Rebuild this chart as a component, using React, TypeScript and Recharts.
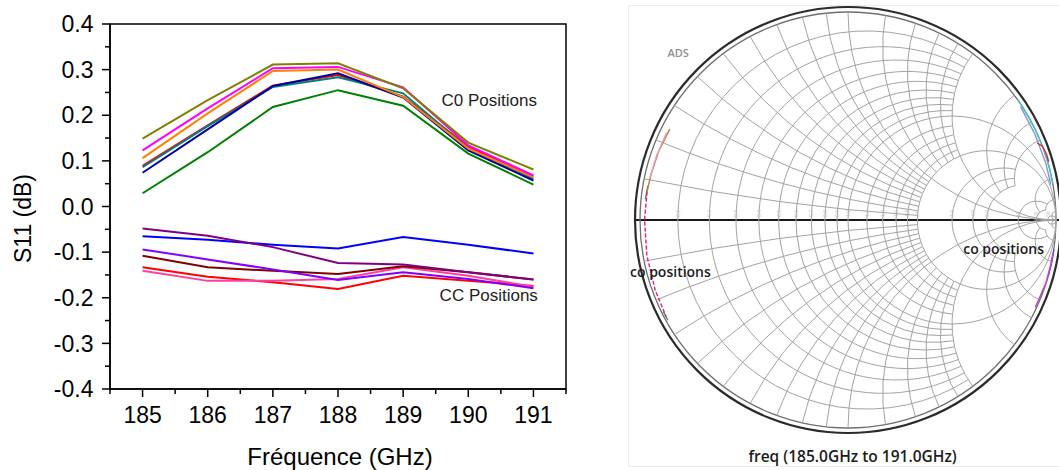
import React from "react";
import {
  LineChart,
  Line,
  XAxis,
  YAxis,
  ReferenceArea,
  ReferenceDot,
  ReferenceLine,
  ScatterChart,
  Scatter,
} from "recharts";

const FONT = "'Liberation Sans', Arial, Helvetica, sans-serif";
const SMITH_FONT = "'Open Sans', 'Noto Sans', sans-serif";

// ---------- left panel: S11 (dB) vs frequency ----------
const freqs = [185, 186, 187, 188, 189, 190, 191];

const c0Olive = [0.149, 0.233, 0.311, 0.314, 0.259, 0.14, 0.081];
const c0Magenta = [0.123, 0.215, 0.303, 0.306, 0.261, 0.134, 0.068];
const c0Orange = [0.106, 0.204, 0.297, 0.3, 0.24, 0.127, 0.064];
const c0Red = [0.089, 0.178, 0.265, 0.288, 0.241, 0.132, 0.066];
const c0Teal = [0.086, 0.176, 0.262, 0.283, 0.248, 0.127, 0.061];
const c0Navy = [0.074, 0.169, 0.264, 0.292, 0.239, 0.123, 0.057];
const c0Green = [0.029, 0.119, 0.218, 0.255, 0.221, 0.116, 0.048];

const ccPurple = [-0.048, -0.064, -0.089, -0.124, -0.127, -0.144, -0.16];
const ccBlue = [-0.065, -0.073, -0.084, -0.092, -0.067, -0.084, -0.103];
const ccViolet = [-0.094, -0.116, -0.138, -0.161, -0.144, -0.159, -0.179];
const ccMaroon = [-0.108, -0.133, -0.141, -0.148, -0.131, -0.144, -0.16];
const ccRed = [-0.133, -0.154, -0.166, -0.181, -0.152, -0.163, -0.174];
const ccPink = [-0.141, -0.163, -0.163, -0.159, -0.133, -0.152, -0.176];

const xMajorTicks = [185, 186, 187, 188, 189, 190, 191];
const xMinorTicks = [184.5, 185.5, 186.5, 187.5, 188.5, 189.5, 190.5, 191.5];
const yMajorTicks = [-0.4, -0.3, -0.2, -0.1, 0, 0.1, 0.2, 0.3, 0.4];
const yMinorTicks = [-0.35, -0.25, -0.15, -0.05, 0.05, 0.15, 0.25, 0.35];

const annotations = [
  { text: "C0 Positions", freq: 189.59, s11: 0.22 },
  { text: "CC Positions", freq: 189.56, s11: -0.208 },
];

const seriesList = [
  { key: "c0Green", color: "#008000", values: c0Green },
  { key: "c0Red", color: "#ff0000", values: c0Red },
  { key: "c0Teal", color: "#008080", values: c0Teal },
  { key: "c0Navy", color: "#0000a0", values: c0Navy },
  { key: "c0Orange", color: "#ff8000", values: c0Orange },
  { key: "c0Magenta", color: "#ff00ff", values: c0Magenta },
  { key: "c0Olive", color: "#808000", values: c0Olive },
  { key: "ccRed", color: "#ff0000", values: ccRed },
  { key: "ccPink", color: "#ff3f9f", values: ccPink },
  { key: "ccMaroon", color: "#800000", values: ccMaroon },
  { key: "ccViolet", color: "#8000ff", values: ccViolet },
  { key: "ccBlue", color: "#0000ff", values: ccBlue },
  { key: "ccPurple", color: "#800080", values: ccPurple },
];

const s11Data = freqs.map((freq, i) => {
  const row: any = { freq };
  seriesList.forEach((s) => {
    row[s.key] = s.values[i];
  });
  return row;
});

// ---------- right panel: Smith chart ----------
const UNIT = 208; // px per unit of reflection coefficient
const SMITH_W = 431;
const SMITH_H = 470;
const SMITH_CX = 220;
const SMITH_CY = 220;
const gxDomain = [-SMITH_CX / UNIT, (SMITH_W - SMITH_CX) / UNIT];
const gyDomain = [-(SMITH_H - SMITH_CY) / UNIT, SMITH_CY / UNIT];

const resistanceFine = [0.1, 0.2, 0.3, 0.4, 0.5, 0.6, 0.7, 0.8, 0.9, 1.2, 1.4, 1.6, 1.8];
const resistanceFull = [1, 2, 50];
const resistanceCoarse = [3, 4, 5];
const resistanceHigh = [10, 20];
const reactanceFine = [0.1, 0.2, 0.3, 0.4, 0.5, 0.6, 0.7, 0.8, 0.9, 1.2, 1.4, 1.6, 1.8];
const reactanceFull = [1, 2, 50];
const reactanceCoarse = [3, 4, 5];
const reactanceHigh = [10, 20];
const ringRadii = [1, 1.024];
const resistanceLabels = [0.1, 0.2, 0.3, 0.4, 0.5, 0.6, 0.7, 0.8, 0.9, 1, 1.2, 1.4, 1.6, 1.8, 2, 3, 4, 5, 10, 20, 50];

const traceLeftOrange = [
  { gx: -0.857, gy: 0.437 },
  { gx: -0.91, gy: 0.331 },
  { gx: -0.947, gy: 0.219 },
  { gx: -0.966, gy: 0.136 },
];
const traceLeftPink = [
  { gx: -0.872, gy: 0.42 },
  { gx: -0.92, gy: 0.31 },
  { gx: -0.952, gy: 0.205 },
];
const traceLeftMagenta = [
  { gx: -0.966, gy: 0.136 },
  { gx: -0.978, gy: 0.0 },
  { gx: -0.967, gy: -0.171 },
  { gx: -0.927, gy: -0.337 },
  { gx: -0.874, gy: -0.465 },
];
const traceLeftGreenA = [
  { gx: -0.962, gy: 0.165 },
  { gx: -0.974, gy: 0.1 },
];
const traceLeftGreenB = [
  { gx: -0.888, gy: -0.44 },
  { gx: -0.866, gy: -0.482 },
];
const traceRightCyan = [
  { gx: 0.819, gy: 0.574 },
  { gx: 0.866, gy: 0.5 },
  { gx: 0.906, gy: 0.423 },
  { gx: 0.94, gy: 0.342 },
  { gx: 0.966, gy: 0.259 },
  { gx: 0.985, gy: 0.174 },
];
const traceRightLavender = [
  { gx: 0.83, gy: 0.545 },
  { gx: 0.9, gy: 0.41 },
  { gx: 0.952, gy: 0.27 },
  { gx: 0.975, gy: 0.17 },
];
const traceRightRed = [
  { gx: 0.91, gy: 0.37 },
  { gx: 0.935, gy: 0.355 },
  { gx: 0.955, gy: 0.315 },
  { gx: 0.965, gy: 0.28 },
];
const traceRightMagenta = [
  { gx: 0.9, gy: -0.42 },
  { gx: 0.93, gy: -0.355 },
  { gx: 0.952, gy: -0.3 },
  { gx: 0.972, gy: -0.225 },
  { gx: 0.985, gy: -0.16 },
];
const traceRightBlue = [
  { gx: 0.99, gy: -0.14 },
  { gx: 0.98, gy: -0.2 },
  { gx: 0.965, gy: -0.26 },
];
const traceRightGreen = [
  { gx: 0.915, gy: -0.39 },
  { gx: 0.94, gy: -0.33 },
];

const smithTraces = [
  { points: traceLeftGreenA, color: "#2e9e3e", dash: undefined },
  { points: traceLeftGreenB, color: "#2e9e3e", dash: undefined },
  { points: traceLeftOrange, color: "#c8743c", dash: undefined },
  { points: traceLeftPink, color: "#e7a0b4", dash: undefined },
  { points: traceLeftMagenta, color: "#e0207a", dash: "4 2" },
  { points: traceRightLavender, color: "#8d8de0", dash: undefined },
  { points: traceRightCyan, color: "#3cc8c8", dash: undefined },
  { points: traceRightRed, color: "#d83030", dash: undefined },
  { points: traceRightGreen, color: "#3aa050", dash: undefined },
  { points: traceRightBlue, color: "#4a5ae0", dash: undefined },
  { points: traceRightMagenta, color: "#d040d0", dash: undefined },
];

const smithLabels = [
  { text: "ADS", gx: -0.868, gy: 0.782 },
  { text: "co positions", gx: -1.048, gy: -0.276 },
  { text: "co positions", gx: 0.554, gy: -0.165 },
  { text: "freq (185.0GHz to 191.0GHz)", gx: 0.022, gy: -1.162 },
];

const gammaOf = (r: number, x: number) => {
  const den = (r + 1) * (r + 1) + x * x;
  return { re: (r * r + x * x - 1) / den, im: (2 * x) / den };
};

const gridItems: any[] = [
  ...ringRadii.map((radius) => ({ kind: "ring", radius, gx: 0, gy: 0 })),
  ...[
    ...resistanceFine.map((v) => ({ value: v, limit: 2 })),
    ...resistanceFull.map((v) => ({ value: v, limit: Infinity })),
    ...resistanceCoarse.map((v) => ({ value: v, limit: 5 })),
    ...resistanceHigh.map((v) => ({ value: v, limit: 20 })),
  ].map((d) => ({ kind: "r", ...d, gx: d.value / (1 + d.value), gy: 0 })),
  ...[
    ...reactanceFine.map((v) => ({ value: v, limit: 2 })),
    ...reactanceFull.map((v) => ({ value: v, limit: Infinity })),
    ...reactanceCoarse.map((v) => ({ value: v, limit: 5 })),
    ...reactanceHigh.map((v) => ({ value: v, limit: 20 })),
  ]
    .flatMap((d) => [d, { ...d, value: -d.value }])
    .map((d) => ({ kind: "x", ...d, gx: 1, gy: 1 / d.value })),
];

const labelItems = resistanceLabels.map((r) => ({ value: r, gx: (r - 1) / (r + 1), gy: 0 }));

function GridShape(props: any) {
  const { cx, cy, payload } = props;
  const d = payload;
  const stroke = "#a3a3a3";
  if (d.kind === "ring") {
    const outer = d.radius > 1;
    return (
      <circle
        cx={cx}
        cy={cy}
        r={d.radius * UNIT}
        fill="none"
        stroke={outer ? "#2b2b2b" : "#6f6f6f"}
        strokeWidth={outer ? 2.2 : 1.3}
      />
    );
  }
  if (d.kind === "r") {
    const rho = (1 / (1 + d.value)) * UNIT;
    if (!isFinite(d.limit)) {
      return <circle cx={cx} cy={cy} r={rho} fill="none" stroke={stroke} strokeWidth={1} />;
    }
    const g = gammaOf(d.value, d.limit);
    const ex = cx + (g.re - d.gx) * UNIT;
    const up = cy - g.im * UNIT;
    const dn = cy + g.im * UNIT;
    const large = g.re > d.gx ? 1 : 0;
    return (
      <path
        d={`M ${ex} ${dn} A ${rho} ${rho} 0 ${large} 1 ${ex} ${up}`}
        fill="none"
        stroke={stroke}
        strokeWidth={1}
      />
    );
  }
  // reactance arc
  const x = d.value;
  const rho = Math.abs(1 / x) * UNIT;
  const s = gammaOf(0, x);
  const e = isFinite(d.limit) ? gammaOf(d.limit, x) : { re: 1, im: 0 };
  const sx = cx + (s.re - 1) * UNIT;
  const sy = cy - (s.im - 1 / x) * UNIT;
  const ex = cx + (e.re - 1) * UNIT;
  const ey = cy - (e.im - 1 / x) * UNIT;
  return (
    <path
      d={`M ${sx} ${sy} A ${rho} ${rho} 0 0 ${x > 0 ? 0 : 1} ${ex} ${ey}`}
      fill="none"
      stroke={stroke}
      strokeWidth={1}
    />
  );
}

function AxisLabelShape(props: any) {
  const { cx, cy, payload } = props;
  const txt = payload.value < 10 ? payload.value.toFixed(1) : String(payload.value);
  return (
    <text
      x={cx + 2}
      y={cy - 3}
      transform={`rotate(-90 ${cx + 2} ${cy - 3})`}
      fontSize={5}
      fill="#bdbdbd"
      fontFamily={SMITH_FONT}
    >
      {txt}
    </text>
  );
}

function XTick(props: any) {
  const { x, y, payload } = props;
  const major = xMajorTicks.includes(payload.value);
  return (
    <g>
      <line x1={x} y1={y} x2={x} y2={y + (major ? 8 : 5)} stroke="#000" strokeWidth={1.5} />
      {major && (
        <text x={x} y={y + 34} textAnchor="middle" fontSize={23} fill="#000" fontFamily={FONT}>
          {payload.value}
        </text>
      )}
    </g>
  );
}

function YTick(props: any) {
  const { x, y, payload } = props;
  const major = yMajorTicks.includes(payload.value);
  return (
    <g>
      <line x1={x - (major ? 8 : 5)} y1={y} x2={x} y2={y} stroke="#000" strokeWidth={1.5} />
      {major && (
        <text x={x - 16.5} y={y + 8.2} textAnchor="end" fontSize={23} fill="#000" fontFamily={FONT}>
          {payload.value.toFixed(1)}
        </text>
      )}
    </g>
  );
}

const hideDot = () => <g />;

export default function App() {
  return (
    <div
      style={{
        position: "absolute",
        left: 0,
        top: 0,
        width: 1059,
        height: 470,
        overflow: "hidden",
        background: "#fff",
      }}
    >
      <div style={{ position: "absolute", left: 0, top: 0 }}>
        <LineChart
          width={600}
          height={470}
          data={s11Data}
          margin={{ top: 24, right: 34, bottom: 0, left: 0 }}
        >
          <XAxis
            dataKey="freq"
            type="number"
            domain={[184.5, 191.5]}
            ticks={[...xMinorTicks, ...xMajorTicks].sort((a, b) => a - b)}
            interval={0}
            tickSize={0}
            tickMargin={0}
            tickLine={false}
            tick={(p: any) => <XTick {...p} />}
            axisLine={{ stroke: "#000", strokeWidth: 1.5 }}
            height={81}
            label={(p: any) => {
              const vb = p.viewBox;
              return (
                <text
                  x={vb.x + vb.width / 2 + 2}
                  y={vb.y + 76}
                  textAnchor="middle"
                  fontSize={24}
                  fill="#000"
                  fontFamily={FONT}
                >
                  Fréquence (GHz)
                </text>
              );
            }}
          />
          <YAxis
            type="number"
            domain={[-0.4, 0.4]}
            ticks={[...yMinorTicks, ...yMajorTicks].sort((a, b) => a - b)}
            interval={0}
            tickSize={0}
            tickMargin={0}
            tickLine={false}
            tick={(p: any) => <YTick {...p} />}
            axisLine={{ stroke: "#000", strokeWidth: 1.5 }}
            width={110}
            label={(p: any) => {
              const vb = p.viewBox;
              const lx = vb.x + 31;
              const ly = vb.y + vb.height / 2 + 12;
              return (
                <text
                  x={lx}
                  y={ly}
                  transform={`rotate(-90 ${lx} ${ly})`}
                  textAnchor="middle"
                  fontSize={23}
                  fill="#000"
                  fontFamily={FONT}
                >
                  S11 (dB)
                </text>
              );
            }}
          />
          <ReferenceArea
            x1={184.5}
            x2={191.5}
            y1={-0.4}
            y2={0.4}
            fill="none"
            stroke="#000"
            strokeWidth={1.5}
          />
          {seriesList.map((s) => (
            <Line
              key={s.key}
              dataKey={s.key}
              type="linear"
              stroke={s.color}
              strokeWidth={2}
              dot={false}
              activeDot={false}
              isAnimationActive={false}
            />
          ))}
          {annotations.map((a) => (
            <ReferenceDot
              key={a.text}
              x={a.freq}
              y={a.s11}
              r={0}
              fill="none"
              stroke="none"
              label={(p: any) => (
                <text
                  x={p.viewBox.x}
                  y={p.viewBox.y}
                  fontSize={17}
                  fill="#1e1e1e"
                  fontFamily={FONT}
                >
                  {a.text}
                </text>
              )}
            />
          ))}
        </LineChart>
      </div>

      <div
        style={{
          position: "absolute",
          left: 628,
          top: 5,
          width: 460,
          height: 462,
          border: "1px solid #ececec",
          boxSizing: "border-box",
        }}
      />

      <div style={{ position: "absolute", left: 628, top: 0 }}>
        <ScatterChart
          width={SMITH_W}
          height={SMITH_H}
          margin={{ top: 0, right: 0, bottom: 0, left: 0 }}
        >
          <XAxis
            dataKey="gx"
            type="number"
            domain={gxDomain}
            allowDataOverflow
            hide
          />
          <YAxis
            dataKey="gy"
            type="number"
            domain={gyDomain}
            allowDataOverflow
            hide
          />
          <Scatter
            data={gridItems}
            shape={(p: any) => <GridShape {...p} />}
            isAnimationActive={false}
          />
          <Scatter
            data={labelItems}
            shape={(p: any) => <AxisLabelShape {...p} />}
            isAnimationActive={false}
          />
          <ReferenceLine
            segment={[
              { x: -1.024, y: 0 },
              { x: gxDomain[1], y: 0 },
            ]}
            stroke="#1a1a1a"
            strokeWidth={2}
            ifOverflow="visible"
          />
          {smithTraces.map((t, i) => (
            <Scatter
              key={i}
              data={t.points}
              fill={t.color}
              line={{ stroke: t.color, strokeWidth: 1.4, strokeDasharray: t.dash }}
              lineType="joint"
              shape={hideDot}
              isAnimationActive={false}
            />
          ))}
          {smithLabels.map((l, i) => (
            <ReferenceDot
              key={i}
              x={l.gx}
              y={l.gy}
              r={0}
              fill="none"
              stroke="none"
              label={(p: any) => {
                const isAds = l.text === "ADS";
                const isFreq = l.text.startsWith("freq");
                return (
                  <text
                    x={p.viewBox.x}
                    y={p.viewBox.y}
                    textAnchor={isFreq ? "middle" : "start"}
                    fontSize={isAds ? 11 : isFreq ? 15.5 : 14}
                    fontWeight={isAds ? 600 : 600}
                    fill={isAds ? "#8f8f8f" : "#1c1c1c"}
                    fontFamily={SMITH_FONT}
                  >
                    {l.text}
                  </text>
                );
              }}
            />
          ))}
        </ScatterChart>
      </div>
    </div>
  );
}
